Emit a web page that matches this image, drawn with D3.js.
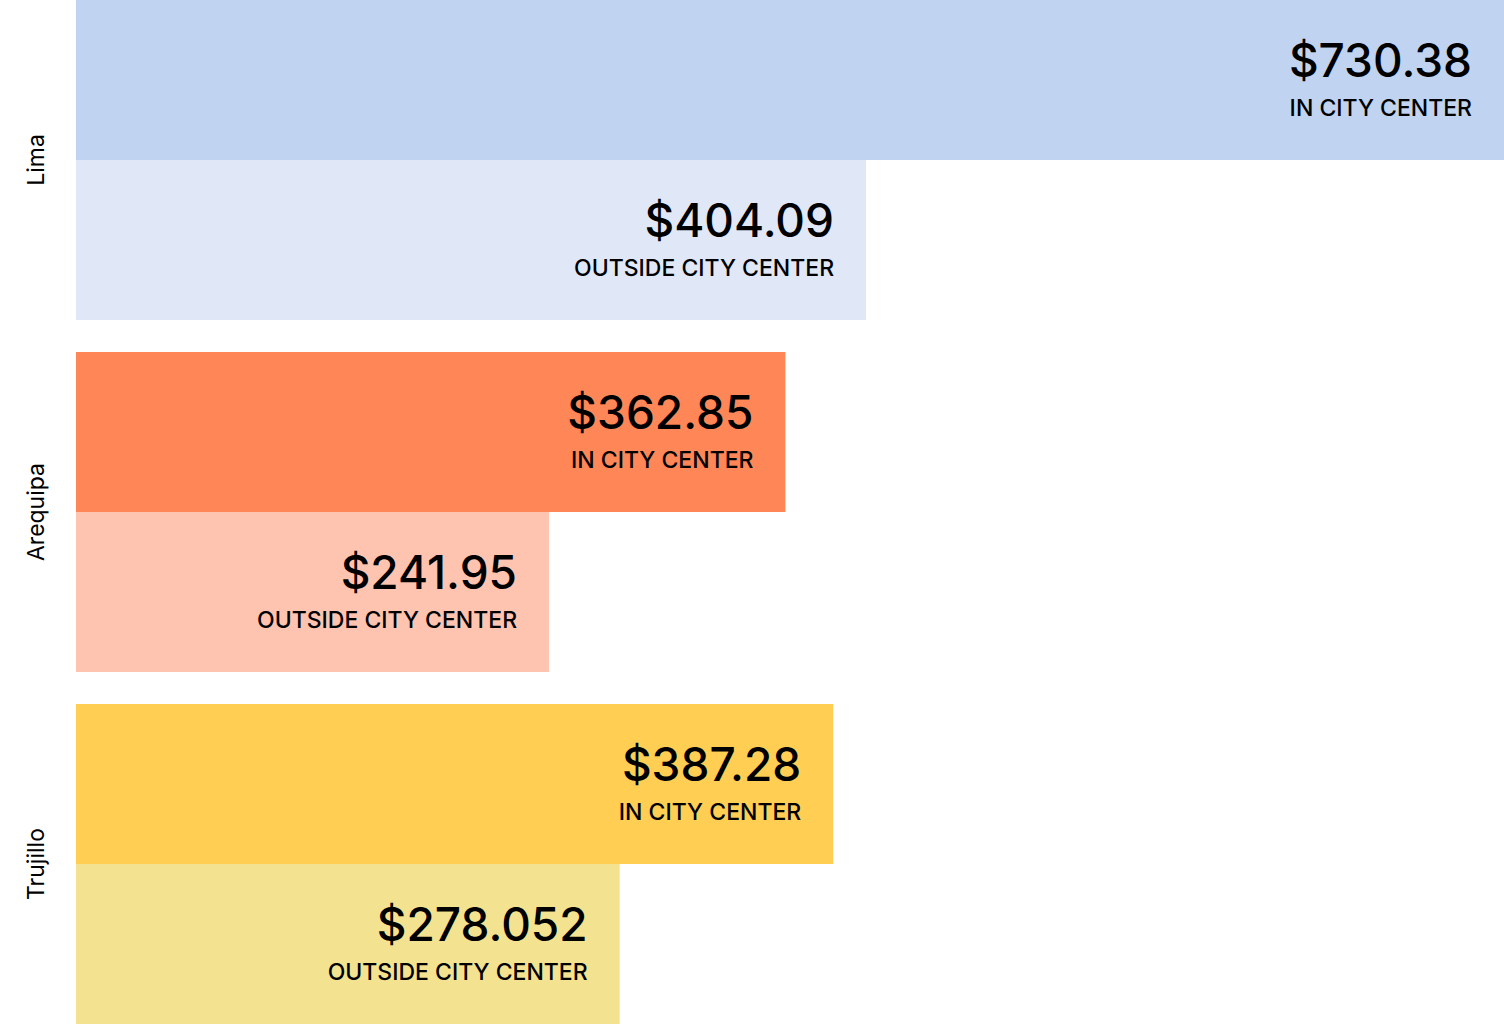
<!DOCTYPE html>
<html>
<head>
<meta charset="utf-8">
<script src="https://cdn.jsdelivr.net/npm/d3@7"></script>
<style>
  body { margin: 0; background: #fff; }
  svg { display: block; font-family: Inter, "Noto Sans", sans-serif; }
</style>
</head>
<body>
<div id="chart"></div>
<script>
// Rent, 1 bedroom apartment - by city
const cities = ["Lima", "Arequipa", "Trujillo"];
const inCenter = [730.38, 362.85, 387.28];
const outCenter = [404.09, 241.95, 278.052];
const inLabels = ["$730.38", "$362.85", "$387.28"];
const outLabels = ["$404.09", "$241.95", "$278.052"];
const inColors = ["#c0d4f2", "#ff8656", "#ffce53"];
const outColors = ["#e0e8f8", "#ffc4b0", "#f3e390"];

function drawChart() {
    const width = 1504, height = 1024;
    const margin = {top: 0, right: 0, bottom: 0, left: 76};
    const gap = 32;

    let svg = d3.select("#chart")
        .append("svg")
        .attr("width", width)
        .attr("height", height);

    let x = d3.scaleLinear()
        .domain([0, d3.max(inCenter)])
        .range([margin.left, width - margin.right]);

    // one band per city, two sub bands inside
    let y = d3.scaleBand()
        .domain(cities)
        .range([margin.top, height - margin.bottom])
        .paddingInner(gap / ((height + gap) / cities.length))
        .paddingOuter(0);

    let sub = d3.scaleBand()
        .domain(["in", "out"])
        .range([0, y.bandwidth()]);

    let rows = [];
    cities.forEach(function (c, i) {
        rows.push({city: c, kind: "in", v: inCenter[i], label: inLabels[i], sub: "IN CITY CENTER", color: inColors[i]});
        rows.push({city: c, kind: "out", v: outCenter[i], label: outLabels[i], sub: "OUTSIDE CITY CENTER", color: outColors[i]});
    });

    let g = svg.selectAll("g.bar")
        .data(rows)
        .enter()
        .append("g")
        .attr("class", "bar")
        .attr("transform", function (d) { return "translate(0," + (y(d.city) + sub(d.kind)) + ")"; });

    g.append("rect")
        .attr("x", x(0))
        .attr("y", 0)
        .attr("width", function (d) { return x(d.v) - x(0); })
        .attr("height", sub.bandwidth())
        .attr("fill", function (d) { return d.color; });

    g.append("text")
        .attr("x", function (d) { return x(d.v) - 32; })
        .attr("y", 77)
        .attr("text-anchor", "end")
        .style("font-size", "46px")
        .style("font-weight", 500)
        .attr("fill", "#000")
        .text(function (d) { return d.label; });

    g.append("text")
        .attr("x", function (d) { return x(d.v) - 32; })
        .attr("y", 116)
        .attr("text-anchor", "end")
        .style("font-size", "23px")
        .style("font-weight", 500)
        .attr("fill", "#000")
        .text(function (d) { return d.sub; });

    // city names, rotated
    svg.selectAll("text.city")
        .data(cities)
        .enter()
        .append("text")
        .attr("class", "city")
        .attr("transform", function (d) { return "translate(44," + (y(d) + y.bandwidth() / 2) + ") rotate(-90)"; })
        .attr("text-anchor", "middle")
        .style("font-size", "23px")
        .attr("fill", "#000")
        .text(function (d) { return d; });
}
drawChart();
</script>
</body>
</html>
